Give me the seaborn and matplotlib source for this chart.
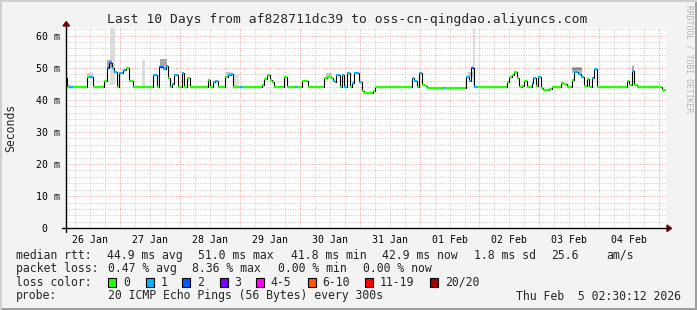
import matplotlib
matplotlib.use("Agg")
import matplotlib.pyplot as plt
from matplotlib.patches import Rectangle
import seaborn as sns
import pandas as pd

# ---------------- data ----------------
# hours since 26 Jan 00:00, median rtt (ms) step values, loss bucket (0,1,2)
step_hours = [2.5, 2.9, 3.7, 5.1, 10.9, 11.7, 13.1, 17.7, 18.9, 19.5, 20.9, 21.6, 22.9, 23.7,
              25.1, 26.3, 27.6, 29.1, 37.1, 38.9, 39.7, 41.3, 42.4, 43.1, 43.9, 45.0, 45.8,
              47.1, 48.9, 49.7, 50.8, 51.9, 59.1, 59.9, 61.3, 62.0, 63.1, 66.0, 67.3, 68.3,
              69.1, 72.0, 73.1, 80.7, 81.7, 83.1, 84.0, 84.9, 85.9, 89.6, 90.9, 94.0, 95.0,
              97.1, 99.3, 105.7, 107.0, 108.4, 109.3, 110.3, 110.7, 112.0, 112.8, 113.7,
              115.1, 116.0, 117.1, 117.6, 119.7, 121.0, 121.7, 125.3, 126.0, 141.0, 141.7,
              143.0, 143.6, 145.0, 146.0, 147.0, 153.3, 154.0, 162.8, 164.0, 164.7, 165.7,
              167.0, 179.0, 179.7, 181.0, 182.0, 183.0, 183.7, 185.0, 185.7, 187.0, 189.0,
              189.6, 190.7, 191.3, 192.7, 193.6, 196.0, 197.0, 200.7, 202.0, 203.0, 205.0,
              205.7, 207.3, 208.7, 210.0, 211.0, 211.9, 213.0, 213.7, 215.0, 227.0, 227.7,
              229.0, 230.0, 231.0, 241.0]
step_values = [46.7, 44.0, 44.0, 44.0, 47.0, 47.0, 44.0, 45.9, 50.0, 51.5, 49.8, 48.5, 44.0, 48.3,
               49.3, 50.0, 45.9, 44.0, 47.7, 44.0, 50.3, 49.5, 50.6, 46.7, 44.0, 45.0, 47.8,
               44.0, 48.3, 44.0, 46.7, 44.0, 46.2, 44.0, 45.5, 45.9, 44.0, 47.0, 47.8, 48.0,
               44.0, 44.0, 44.0, 44.6, 46.5, 47.8, 46.2, 45.5, 44.0, 47.2, 44.0, 44.0, 44.0,
               45.7, 44.0, 46.7, 47.2, 46.7, 45.9, 45.5, 47.8, 44.0, 47.8, 44.0,
               48.3, 44.0, 45.2, 48.3, 45.5, 42.6, 42.1, 42.8, 44.0, 46.7, 45.9,
               44.0, 48.3, 44.6, 44.3, 43.8, 43.8, 43.8, 47.2, 45.7, 49.8, 44.1,
               44.0, 45.5, 47.2, 47.8, 48.5, 46.9, 44.0, 44.3, 45.9, 44.0, 45.2,
               46.7, 44.4, 47.2, 43.6, 43.0, 43.4, 44.0, 45.2, 44.9, 44.0, 46.2,
               48.5, 48.0, 47.2, 44.4, 46.5, 44.0, 46.7, 49.5, 44.0, 45.9, 44.6,
               49.0, 44.6, 44.0, 43.0]
step_loss = [0, 0, 1, 0, 0, 1, 0, 0, 2, 2, 1, 1, 0, 1,
             1, 0, 0, 0, 1, 0, 2, 1, 1, 0, 0, 1, 1,
             0, 1, 0, 0, 0, 0, 0, 1, 1, 0, 0, 1, 1,
             0, 1, 0, 0, 0, 0, 0, 0, 0, 0, 0, 1, 0,
             0, 0, 0, 0, 0, 1, 1, 1, 0, 1, 1,
             1, 0, 1, 1, 1, 0, 0, 0, 0, 1, 1,
             0, 1, 0, 0, 0, 1, 0, 1, 1, 2, 1,
             0, 0, 0, 0, 0, 0, 0, 0, 0, 0, 1,
             1, 0, 1, 0, 0, 0, 0, 0, 0, 0, 0,
             1, 1, 1, 0, 0, 0, 1, 1, 0, 0, 0,
             1, 0, 0, 0]
end_hour = 242.5

# smoke patches: start hour, end hour, low, high, grey shade
smoke_start = [20.0, 33.0, 69.3, 165.3, 19.0, 40.0, 10.9, 205.0, 205.0, 229.0, 2.9, 66.5, 106.5, 163.5]
smoke_end = [22.0, 34.0, 71.6, 166.3, 21.0, 43.0, 13.1, 209.0, 209.0, 230.0, 4.5, 68.5, 109.0, 165.5]
smoke_low = [44.5, 44.0, 44.0, 44.5, 50.0, 50.0, 47.0, 48.3, 49.2, 49.0, 44.0, 47.5, 46.8, 47.0]
smoke_high = [62.5, 52.4, 48.0, 62.5, 52.4, 52.8, 48.3, 50.3, 49.8, 50.6, 45.0, 48.8, 48.2, 48.5]
smoke_shade = ["#dcdcdc", "#dcdcdc", "#e0e0e0", "#dcdcdc", "#a8a8a8", "#a8a8a8", "#cfcfcf",
               "#b8b8b8", "#8a8a8a", "#a8a8a8", "#d8d8d8", "#c4c4c4", "#c4c4c4", "#c4c4c4"]

loss_colors = ["#26ff00", "#00b8ff", "#0059ff", "#7e00ff", "#ff00ff", "#ff5500", "#ff0000", "#a10000"]
loss_labels = ["0", "1", "2", "3", "4-5", "6-10", "11-19", "20/20"]

day_labels = ["26 Jan", "27 Jan", "28 Jan", "29 Jan", "30 Jan", "31 Jan", "01 Feb", "02 Feb", "03 Feb", "04 Feb"]
y_ticks = [0, 10, 20, 30, 40, 50, 60]
y_ticklabels = ["0  ", "10 m", "20 m", "30 m", "40 m", "50 m", "60 m"]

title = "Last 10 Days from af828711dc39 to oss-cn-qingdao.aliyuncs.com"
stats_row1 = [("median rtt:", 15.6), ("44.9 ms avg", 106.7), ("51.0 ms max", 198.0),
              ("41.8 ms min", 291.0), ("42.9 ms now", 382.0), ("1.8 ms sd", 474.0),
              ("25.6", 551.0), ("am/s", 606.7)]
stats_row2 = [("packet loss:", 15.6), ("0.47 % avg", 107.6), ("8.36 % max", 192.0),
              ("0.00 % min", 277.5), ("0.00 % now", 363.0)]
box_x = [108.4, 145.8, 182.2, 219.6, 256.4, 307.6, 365.3, 430.2]
probe_text = "20 ICMP Echo Pings (56 Bytes) every 300s"
date_text = "Thu Feb  5 02:30:12 2026"

# ---------------- drawing ----------------
W, H = 697, 310
sns.set_style("white")
MONO = ["DejaVu Sans Mono"]
plt.rcParams["font.family"] = MONO

fig = plt.figure(figsize=(W / 100, H / 100), dpi=100, facecolor="#f3f3f3")
x0, x1, y0, y1 = 66.25, 665.5, 228.3, 27.5
ax = fig.add_axes([x0 / W, 1 - y0 / H, (x1 - x0) / W, (y0 - y1) / H])
ax.set_facecolor("white")
ax.set_xlim(2.5, 242.5)
ax.set_ylim(0, 62.5)
for s in ax.spines.values():
    s.set_visible(False)

# grid
for h in range(6, 243, 6):
    if h % 24:
        ax.axvline(h, color="#c8c8c8", lw=0.7, ls=(0, (1, 1.5)), zorder=0)
for v in range(2, 63, 2):
    if v % 10:
        ax.axhline(v, color="#c8c8c8", lw=0.7, ls=(0, (1, 1.5)), zorder=0)
for h in range(24, 243, 24):
    ax.axvline(h, color="#f09a9a", lw=0.7, ls=(0, (1, 1.5)), zorder=0)
for v in range(10, 61, 10):
    ax.axhline(v, color="#f09a9a", lw=0.7, ls=(0, (1, 1.5)), zorder=0)

# smoke
for a, b, lo, hi, c in zip(smoke_start, smoke_end, smoke_low, smoke_high, smoke_shade):
    ax.fill_between([a, b], lo, hi, color=c, lw=0, zorder=1)

# median line (black steps) + loss coloured segments
df = pd.DataFrame({"hour": step_hours + [end_hour], "rtt": step_values + [step_values[-1]]})
sns.lineplot(data=df, x="hour", y="rtt", drawstyle="steps-post", color="black", lw=0.8,
             estimator=None, sort=False, ax=ax, zorder=2)
ends = step_hours[1:] + [end_hour]
ax.hlines(step_values, step_hours, ends, colors=[loss_colors[l] for l in step_loss],
          lw=1.6, zorder=3)

# ticks
ax.set_xticks([12 + 24 * i for i in range(10)])
ax.set_xticklabels(day_labels, fontsize=7.1, family=MONO, color="black")
ax.set_xticks(list(range(24, 243, 24)), minor=True)
ax.tick_params(axis="x", which="major", length=0, pad=4.5)
ax.tick_params(axis="x", which="minor", length=3, direction="out", color="black", width=0.7)
ax.set_yticks(y_ticks)
ax.set_yticklabels(y_ticklabels, fontsize=7.1, family=MONO, color="black")
ax.set_yticks(list(range(2, 63, 2)), minor=True)
ax.tick_params(axis="y", which="major", length=4, direction="inout", color="black", width=0.7, pad=2.5)
ax.tick_params(axis="y", which="minor", length=2, direction="inout", color="black", width=0.6)
ax.set_xlabel("")
ax.set_ylabel("")

# axes with arrows
def fx(px):
    return px / W
def fy(py):
    return 1 - py / H
fig.add_artist(plt.Line2D([fx(62), fx(668)], [fy(228.3), fy(228.3)], color="black", lw=1.0))
fig.add_artist(plt.Line2D([fx(66.25), fx(66.25)], [fy(232), fy(25)], color="black", lw=1.0))
fig.add_artist(plt.Polygon([[fx(667), fy(225)], [fx(667), fy(231.6)], [fx(671.5), fy(228.3)]],
                           closed=True, color="#7f0000", transform=fig.transFigure))
fig.add_artist(plt.Polygon([[fx(63), fy(26)], [fx(69.5), fy(26)], [fx(66.25), fy(21.5)]],
                           closed=True, color="#7f0000", transform=fig.transFigure))

# title and labels
fig.text(fx(347.5), fy(19.5), title, ha="center", va="center", fontsize=9.4, family=MONO)
fig.text(fx(10.5), fy(128), "Seconds", ha="center", va="center", rotation=90, fontsize=8.3, family=MONO)
fig.text(fx(689), fy(5), "RRDTOOL / TOBI OETIKER", ha="center", va="top", rotation=270,
         fontsize=5.8, family=MONO, color="#b4b4b4")

rows_y = [255.5, 268.8, 282.3, 296.0]
for txt, px in stats_row1:
    fig.text(fx(px), fy(rows_y[0]), txt, ha="left", va="center", fontsize=8.3, family=MONO)
for txt, px in stats_row2:
    fig.text(fx(px), fy(rows_y[1]), txt, ha="left", va="center", fontsize=8.3, family=MONO)
fig.text(fx(15.6), fy(rows_y[2]), "loss color:", ha="left", va="center", fontsize=8.3, family=MONO)
for bx, col, lab in zip(box_x, loss_colors, loss_labels):
    fig.add_artist(Rectangle((fx(bx), fy(rows_y[2] + 4.5)), 8 / W, 9 / H, facecolor=col,
                             edgecolor="black", lw=0.8, transform=fig.transFigure))
    fig.text(fx(bx + 14.5), fy(rows_y[2]), lab, ha="left", va="center", fontsize=8.3, family=MONO)
fig.text(fx(15.6), fy(rows_y[3]), "probe:", ha="left", va="center", fontsize=8.3, family=MONO)
fig.text(fx(107.6), fy(rows_y[3]), probe_text, ha="left", va="center", fontsize=8.3, family=MONO)
fig.text(fx(680.5), fy(rows_y[3]), date_text, ha="right", va="center", fontsize=8.3, family=MONO)

# 3D-ish frame
fig.add_artist(Rectangle((0, 0), 1, 2 / H, facecolor="#9e9e9e", lw=0, transform=fig.transFigure))
fig.add_artist(Rectangle((1 - 2 / W, 0), 2 / W, 1, facecolor="#9e9e9e", lw=0, transform=fig.transFigure))
fig.add_artist(Rectangle((0, 1 - 2 / H), 1, 2 / H, facecolor="#cfcfcf", lw=0, transform=fig.transFigure))
fig.add_artist(Rectangle((0, 0), 2 / W, 1, facecolor="#cfcfcf", lw=0, transform=fig.transFigure))

fig.savefig("out.png", dpi=100, facecolor=fig.get_facecolor())
